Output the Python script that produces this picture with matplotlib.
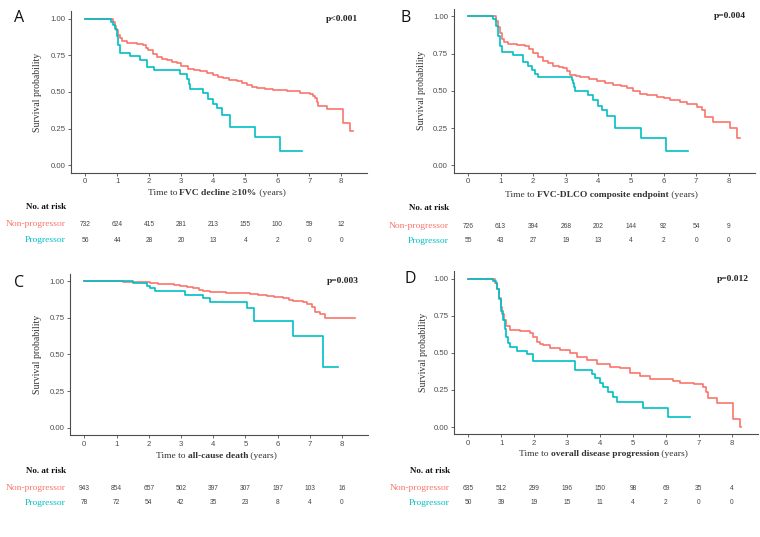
import matplotlib
matplotlib.use("Agg")
import matplotlib.pyplot as plt
import matplotlib.transforms as mtransforms
from matplotlib.offsetbox import TextArea, HPacker, AnnotationBbox

W, H = 760, 537
RED = "#F8766D"
TEAL = "#00BFC4"
AXC = "#4D4D4D"
SERIF = "Liberation Serif"
SANS = "Liberation Sans"

risk_times = [0, 1, 2, 3, 4, 5, 6, 7, 8]

# Panel A: FVC decline >=10%
a_np_t = [0, 0.87, 0.92, 0.97, 1.02, 1.08, 1.15, 1.3, 1.6, 1.8, 1.9, 1.97, 2.1, 2.23, 2.4,
          2.54, 2.7, 2.85, 3.0, 3.22, 3.4, 3.58, 3.8, 4.0, 4.15, 4.31, 4.5, 4.73, 4.9, 5.04,
          5.2, 5.35, 5.6, 5.88, 6.29, 6.71, 7.02, 7.12, 7.18, 7.23, 7.28, 7.54, 8.06, 8.27, 8.35]
a_np_s = [1.0, 0.98, 0.95, 0.92, 0.89, 0.866, 0.845, 0.835, 0.83, 0.82, 0.80, 0.786, 0.76, 0.74, 0.728,
          0.718, 0.705, 0.695, 0.68, 0.66, 0.65, 0.643, 0.63, 0.616, 0.605, 0.593, 0.585, 0.575, 0.562, 0.548,
          0.535, 0.525, 0.52, 0.514, 0.507, 0.495, 0.484, 0.47, 0.457, 0.43, 0.405, 0.382, 0.29, 0.234, 0.234]
a_p_t = [0, 0.80, 0.88, 0.93, 0.98, 1.03, 1.08, 1.40, 1.71, 1.92, 2.15, 2.96, 3.19, 3.23, 3.27,
         3.69, 3.84, 4.0, 4.1, 4.26, 4.52, 5.30, 6.08, 6.76]
a_p_s = [1.0, 0.98, 0.955, 0.93, 0.88, 0.82, 0.768, 0.745, 0.72, 0.67, 0.65, 0.62, 0.59, 0.555, 0.52,
         0.49, 0.455, 0.42, 0.39, 0.34, 0.26, 0.19, 0.095, 0.095]
a_risk_np = [732, 624, 415, 281, 213, 155, 100, 59, 12]
a_risk_p = [56, 44, 28, 20, 13, 4, 2, 0, 0]

# Panel B: FVC-DLCO composite endpoint
b_np_t = [0, 0.85, 0.92, 0.98, 1.05, 1.12, 1.24, 1.5, 1.75, 1.88, 2.0, 2.15, 2.31, 2.45, 2.62,
          2.8, 2.93, 3.05, 3.13, 3.3, 3.44, 3.7, 3.95, 4.2, 4.46, 4.7, 4.87, 5.05, 5.28, 5.5,
          5.79, 6.0, 6.2, 6.5, 6.71, 7.02, 7.17, 7.27, 7.53, 8.04, 8.25, 8.35]
b_np_s = [1.0, 0.97, 0.93, 0.89, 0.85, 0.83, 0.815, 0.81, 0.80, 0.78, 0.752, 0.725, 0.70, 0.685, 0.669,
          0.66, 0.651, 0.635, 0.606, 0.598, 0.59, 0.578, 0.566, 0.553, 0.539, 0.53, 0.517, 0.50, 0.477, 0.47,
          0.461, 0.45, 0.438, 0.425, 0.412, 0.394, 0.371, 0.327, 0.293, 0.248, 0.181, 0.181]
b_p_t = [0, 0.78, 0.85, 0.93, 0.98, 1.03, 1.39, 1.70, 1.85, 1.95, 2.05, 2.16, 3.18, 3.22, 3.25,
         3.28, 3.69, 3.85, 4.0, 4.1, 4.26, 4.51, 5.31, 6.08, 6.76]
b_p_s = [1.0, 0.98, 0.935, 0.87, 0.80, 0.76, 0.74, 0.69, 0.665, 0.64, 0.615, 0.59, 0.57, 0.55, 0.525,
         0.50, 0.47, 0.44, 0.40, 0.37, 0.33, 0.25, 0.185, 0.093, 0.093]
b_risk_np = [726, 613, 394, 268, 202, 144, 92, 54, 9]
b_risk_p = [55, 43, 27, 19, 13, 4, 2, 0, 0]

# Panel C: all-cause death
c_np_t = [0, 1.2, 1.6, 2.04, 2.3, 2.56, 2.8, 2.97, 3.2, 3.38, 3.55, 3.70, 3.9, 4.11, 4.4,
          4.63, 5.14, 5.4, 5.66, 5.9, 6.18, 6.35, 6.49, 6.8, 6.9, 7.06, 7.16, 7.32, 7.47, 8.41]
c_np_s = [1.0, 0.995, 0.99, 0.984, 0.98, 0.977, 0.97, 0.966, 0.958, 0.95, 0.942, 0.934, 0.928, 0.923, 0.918,
          0.916, 0.911, 0.906, 0.90, 0.892, 0.882, 0.873, 0.864, 0.855, 0.841, 0.825, 0.791, 0.773, 0.745, 0.745]
c_p_t = [0, 1.52, 1.94, 2.04, 2.19, 3.13, 3.70, 3.90, 5.04, 5.27, 6.47, 7.40, 7.89]
c_p_s = [1.0, 0.986, 0.968, 0.95, 0.932, 0.905, 0.882, 0.86, 0.818, 0.73, 0.625, 0.415, 0.415]
c_risk_np = [943, 854, 657, 502, 397, 307, 197, 103, 16]
c_risk_p = [78, 72, 54, 42, 35, 23, 8, 4, 0]

# Panel D: overall disease progression
d_np_t = [0, 0.81, 0.88, 0.93, 0.98, 1.03, 1.08, 1.16, 1.27, 1.57, 1.87, 1.97, 2.08, 2.18, 2.28,
          2.48, 2.78, 3.09, 3.29, 3.59, 3.9, 4.3, 4.61, 4.91, 5.22, 5.52, 6.23, 6.43, 6.84, 7.14,
          7.22, 7.29, 7.54, 8.05, 8.25, 8.27]
d_np_s = [1.0, 0.97, 0.93, 0.87, 0.81, 0.76, 0.72, 0.68, 0.655, 0.645, 0.635, 0.61, 0.575, 0.562, 0.553,
          0.53, 0.52, 0.497, 0.47, 0.452, 0.422, 0.407, 0.396, 0.366, 0.344, 0.321, 0.31, 0.294, 0.288, 0.272,
          0.238, 0.193, 0.164, 0.052, 0.002, 0.002]
d_p_t = [0, 0.76, 0.84, 0.88, 0.93, 0.98, 1.04, 1.11, 1.16, 1.22, 1.27, 1.47, 1.77, 1.97, 3.24,
         3.75, 3.85, 4.0, 4.1, 4.25, 4.41, 4.51, 5.32, 6.08, 6.73]
d_p_s = [1.0, 0.985, 0.97, 0.93, 0.86, 0.78, 0.72, 0.66, 0.61, 0.565, 0.54, 0.515, 0.49, 0.445, 0.385,
         0.36, 0.33, 0.30, 0.27, 0.235, 0.20, 0.17, 0.125, 0.065, 0.065]
d_risk_np = [635, 512, 299, 196, 150, 98, 69, 35, 4]
d_risk_p = [50, 39, 19, 15, 11, 4, 2, 0, 0]

panels = [
    dict(letter="A", pval="p<0.001",
         xlab=[("Time to ", "normal"), ("FVC decline \u226510%", "bold"), (" (years)", "normal")],
         np_t=a_np_t, np_s=a_np_s, p_t=a_p_t, p_s=a_p_s, r_np=a_risk_np, r_p=a_risk_p,
         box=(85.3, 341.3, 18.7, 165.3), xlab_y=193, ylab_x=38, letter_xy=(19, 18),
         risk_y=(207, 224, 240), lab_x=66),
    dict(letter="B", pval="p=0.004",
         xlab=[("Time to ", "normal"), ("FVC-DLCO composite endpoint", "bold"), (" (years)", "normal")],
         np_t=b_np_t, np_s=b_np_s, p_t=b_p_t, p_s=b_p_s, r_np=b_risk_np, r_p=b_risk_p,
         box=(468.0, 728.7, 16.3, 165.3), xlab_y=195, ylab_x=422, letter_xy=(406, 18),
         risk_y=(208, 226, 241), lab_x=449),
    dict(letter="C", pval="p=0.003",
         xlab=[("Time to ", "normal"), ("all-cause death", "bold"), (" (years)", "normal")],
         np_t=c_np_t, np_s=c_np_s, p_t=c_p_t, p_s=c_p_s, r_np=c_risk_np, r_p=c_risk_p,
         box=(84.3, 342.0, 281.0, 427.7), xlab_y=456, ylab_x=38, letter_xy=(19, 283),
         risk_y=(471, 488, 503), lab_x=66),
    dict(letter="D", pval="p=0.012",
         xlab=[("Time to ", "normal"), ("overall disease progression", "bold"), (" (years)", "normal")],
         np_t=d_np_t, np_s=d_np_s, p_t=d_p_t, p_s=d_p_s, r_np=d_risk_np, r_p=d_risk_p,
         box=(468.3, 731.7, 278.7, 427.0), xlab_y=454, ylab_x=423, letter_xy=(410, 279),
         risk_y=(471, 488, 503), lab_x=450),
]

fig = plt.figure(figsize=(W / 100, H / 100), dpi=100)
fig.patch.set_facecolor("white")

XLIM = (-0.44, 8.8)
YLIM = (-0.05, 1.05)

for p in panels:
    x0, x8, y1, y0 = p["box"]
    sx = (x8 - x0) / 8.0
    sy = y0 - y1
    left = x0 + XLIM[0] * sx
    right = x0 + XLIM[1] * sx
    top = y1 - (YLIM[1] - 1) * sy
    bottom = y0 - YLIM[0] * sy
    ax = fig.add_axes([left / W, 1 - bottom / H, (right - left) / W, (bottom - top) / H])
    ax.step(p["np_t"], p["np_s"], where="post", color=RED, lw=1.2)
    ax.step(p["p_t"], p["p_s"], where="post", color=TEAL, lw=1.2)
    ax.set_xlim(*XLIM)
    ax.set_ylim(*YLIM)
    ax.set_xticks(risk_times)
    ax.set_yticks([0, 0.25, 0.5, 0.75, 1.0])
    ax.set_yticklabels(["0.00", "0.25", "0.50", "0.75", "1.00"])
    for s in ["top", "right"]:
        ax.spines[s].set_visible(False)
    for s in ["left", "bottom"]:
        ax.spines[s].set_color(AXC)
        ax.spines[s].set_linewidth(0.8)
    ax.tick_params(length=2.2, width=0.6, color=AXC, labelcolor=AXC, labelsize=5.6, pad=1.8)
    for lab in ax.get_xticklabels() + ax.get_yticklabels():
        lab.set_family(SANS)
    ax.set_facecolor("none")

    # p value
    ax.text(0.97, 0.955, p["pval"], transform=ax.transAxes, ha="right", va="center",
            family=SERIF, weight="bold", size=6.8, color="#222222")

    # panel letter
    fig.text(p["letter_xy"][0] / W, 1 - p["letter_xy"][1] / H, p["letter"], ha="center", va="center",
             family="Open Sans", size=11.5, color="#111111")

    # y label
    fig.text(p["ylab_x"] / W, 1 - ((y0 + y1) / 2) / H, "Survival probability", rotation=90,
             ha="center", va="center", family=SERIF, size=7, color="#333333")

    # x label with bold middle part
    boxes = [TextArea(t, textprops=dict(family=SERIF, weight=w, size=6.8, color="#333333"))
             for t, w in p["xlab"]]
    pack = HPacker(children=boxes, pad=0, sep=0, align="baseline")
    xc = (x0 + x8) / 2 + 0.1 * sx
    ab = AnnotationBbox(pack, (xc / W, 1 - p["xlab_y"] / H), xycoords="figure fraction",
                        frameon=False, box_alignment=(0.5, 0.5), pad=0)
    fig.add_artist(ab)

    # risk table
    ry_head, ry_np, ry_p = p["risk_y"]
    fig.text(p["lab_x"] / W, 1 - ry_head / H, "No. at risk", ha="right", va="center",
             family=SERIF, weight="bold", size=6.5, color="#111111")
    fig.text(p["lab_x"] / W, 1 - ry_np / H, "Non-progressor", ha="right", va="center",
             family=SERIF, size=6.8, color=RED)
    fig.text(p["lab_x"] / W, 1 - ry_p / H, "Progressor", ha="right", va="center",
             family=SERIF, size=6.8, color=TEAL)
    tr = mtransforms.blended_transform_factory(ax.transData, fig.transFigure)
    for t, n_np, n_p in zip(risk_times, p["r_np"], p["r_p"]):
        ax.text(t, 1 - ry_np / H, str(n_np), transform=tr, ha="center", va="center",
                family=SANS, size=4.8, color="#444444", clip_on=False)
        ax.text(t, 1 - ry_p / H, str(n_p), transform=tr, ha="center", va="center",
                family=SANS, size=4.8, color="#444444", clip_on=False)

fig.savefig("out.png", dpi=100, facecolor="white")
